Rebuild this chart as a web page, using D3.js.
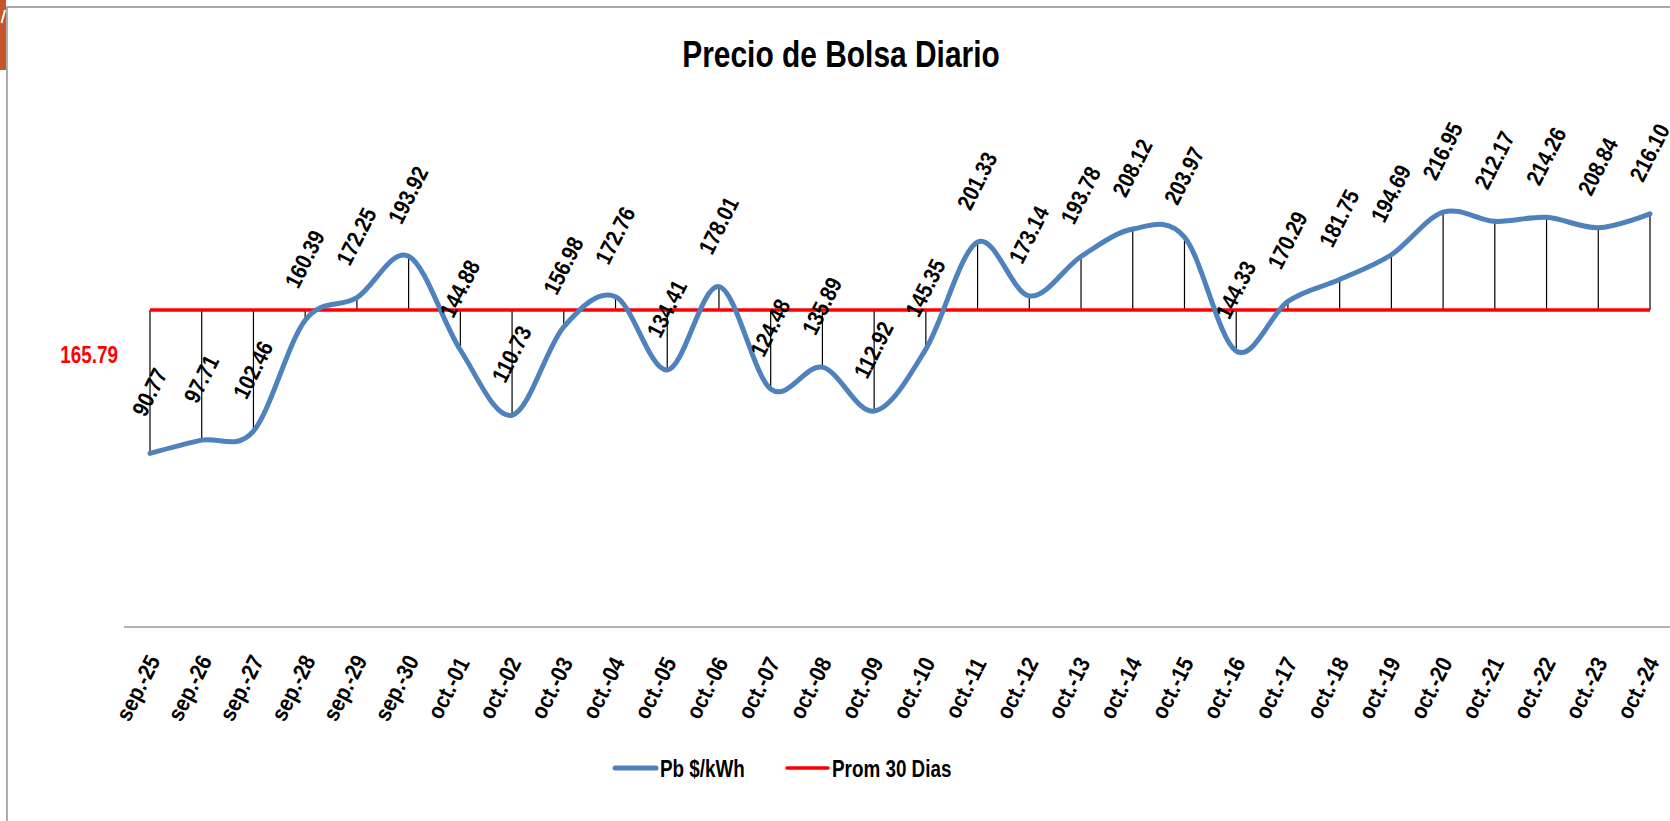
<!DOCTYPE html>
<html>
<head>
<meta charset="utf-8">
<script src="https://cdn.jsdelivr.net/npm/d3@7"></script>
<style>
  body { margin: 0; background: #fff; }
  text { font-family: 'Liberation Sans', Arial, sans-serif; font-weight: bold; }
</style>
</head>
<body>
<script>
// fechas y precios de bolsa diarios
const fechas = ["sep.-25","sep.-26","sep.-27","sep.-28","sep.-29","sep.-30",
  "oct.-01","oct.-02","oct.-03","oct.-04","oct.-05","oct.-06","oct.-07","oct.-08",
  "oct.-09","oct.-10","oct.-11","oct.-12","oct.-13","oct.-14","oct.-15","oct.-16",
  "oct.-17","oct.-18","oct.-19","oct.-20","oct.-21","oct.-22","oct.-23","oct.-24"];
const precios = [90.77, 97.71, 102.46, 160.39, 172.25, 193.92,
  144.88, 110.73, 156.98, 172.76, 134.41, 178.01, 124.48, 135.89,
  112.92, 145.35, 201.33, 173.14, 193.78, 208.12, 203.97, 144.33,
  170.29, 181.75, 194.69, 216.95, 212.17, 214.26, 208.84, 216.10];
const promedio = 165.79;
const series = ["Pb $/kWh", "Prom 30 Dias"];
const colores = ["#4f81bd", "#ff0000"];

const W = 1670, H = 821;
const estrecho = " scale(0.82,1)"; // no hay fuente narrow, se comprime a mano

let svg = d3.select("body").append("svg")
  .attr("width", W)
  .attr("height", H);

svg.append("rect").attr("width", W).attr("height", H).attr("fill", "#fff");

// trozo naranja en la esquina
svg.append("rect").attr("x", 0).attr("y", 0).attr("width", 6).attr("height", 70).attr("fill", "#c5562a");
svg.append("line").attr("x1", 5).attr("y1", 10).attr("x2", 1.5).attr("y2", 23)
  .attr("stroke", "#fff").attr("stroke-width", 2);

// borde del grafico
svg.append("path").attr("d", "M7," + H + "V7H" + W)
  .attr("fill", "none").attr("stroke", "#8c8c8c").attr("stroke-width", 1.4);

svg.append("text")
  .attr("transform", "translate(841,67)" + estrecho)
  .attr("text-anchor", "middle")
  .attr("font-size", 36.5)
  .text("Precio de Bolsa Diario");

let x = d3.scaleLinear().domain([0, fechas.length - 1]).range([150, 1650]);
let y = d3.scaleLinear().domain([0, 250]).range([627, 149]);

// eje de categorias
svg.append("line")
  .attr("x1", x(0) - 26).attr("x2", W)
  .attr("y1", y(0)).attr("y2", y(0))
  .attr("stroke", "#9a9a9a").attr("stroke-width", 1.5);

svg.selectAll(".tick-label").data(fechas).enter().append("text")
  .attr("class", "tick-label")
  .attr("transform", (d, i) => "translate(" + (x(i) - 12) + "," + 688 + ") rotate(-63) scale(0.88,1)")
  .attr("text-anchor", "middle")
  .attr("dominant-baseline", "central")
  .attr("font-size", 23)
  .text(d => d);

// lineas de maximos y minimos
svg.selectAll(".drop").data(precios).enter().append("line")
  .attr("class", "drop")
  .attr("x1", (d, i) => x(i)).attr("x2", (d, i) => x(i))
  .attr("y1", d => y(d)).attr("y2", y(promedio))
  .attr("stroke", "#000").attr("stroke-width", 1.2);

svg.append("line")
  .attr("x1", x(0)).attr("x2", x(precios.length - 1))
  .attr("y1", y(promedio)).attr("y2", y(promedio))
  .attr("stroke", colores[1]).attr("stroke-width", 3.5);

let linea = d3.line()
  .x((d, i) => x(i))
  .y(d => y(d))
  .curve(d3.curveCatmullRom.alpha(0));

svg.append("path")
  .datum(precios)
  .attr("d", linea)
  .attr("fill", "none")
  .attr("stroke", colores[0])
  .attr("stroke-width", 5)
  .attr("stroke-linecap", "round");

svg.selectAll(".val").data(precios).enter().append("text")
  .attr("class", "val")
  .attr("transform", (d, i) => "translate(" + x(i) + "," + (y(d) - 61) + ") rotate(-63) scale(0.86,1)")
  .attr("text-anchor", "middle")
  .attr("dominant-baseline", "central")
  .attr("font-size", 23)
  .text(d => d.toFixed(2));

svg.append("text")
  .attr("transform", "translate(" + (x(0) - 32) + "," + (y(promedio) + 53) + ")" + estrecho)
  .attr("text-anchor", "end")
  .attr("font-size", 23)
  .attr("fill", colores[1])
  .text(promedio.toFixed(2));

// leyenda
let leyenda = [[615, 660], [787, 832]];
series.forEach((s, i) => {
  let lx = leyenda[i][0];
  svg.append("line")
    .attr("x1", lx).attr("x2", lx + 41)
    .attr("y1", 768).attr("y2", 768)
    .attr("stroke", colores[i])
    .attr("stroke-width", i == 0 ? 5 : 3.5)
    .attr("stroke-linecap", "round");
  svg.append("text")
    .attr("transform", "translate(" + leyenda[i][1] + ",777)" + estrecho)
    .attr("font-size", 23)
    .text(s);
});
</script>
</body>
</html>
